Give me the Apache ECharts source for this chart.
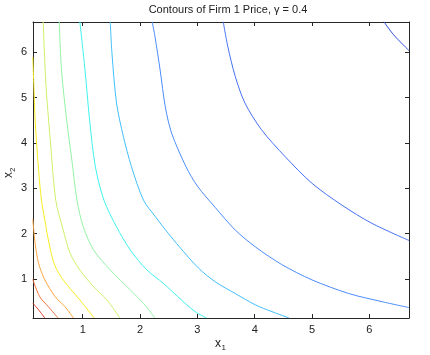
<!DOCTYPE html>
<html><head><meta charset="utf-8">
<script src="https://cdn.jsdelivr.net/npm/echarts@6/dist/echarts.min.js"></script>
<style>html,body{margin:0;padding:0;background:#fff}#c{width:430px;height:355px}</style>
</head><body><div id="c"></div>
<script>
// axis extents and ticks
const xRange = [0.133, 6.69];
const yRange = [0.14, 6.67];
const xTicks = [1, 2, 3, 4, 5, 6];
const yTicks = [1, 2, 3, 4, 5, 6];

// contour lines (x1, x2), lowest level (red) first
const level1 = [[0.13,0.47],[0.23,0.32],[0.34,0.14]];
const level2 = [[0.13,0.99],[0.25,0.61],[0.4,0.39],[0.57,0.14]];
const level3 = [[0.13,2.32],[0.17,1.79],[0.23,1.35],[0.34,0.98],[0.52,0.61],[0.69,0.39],[0.84,0.14]];
const level4 = [[0.13,5.9],[0.15,5.2],[0.17,4.51],[0.23,3.41],[0.28,2.74],[0.34,2.3],[0.39,1.93],[0.49,1.38],[0.6,1.09],[0.78,0.79],[0.95,0.54],[1.2,0.14]];
const level5 = [[0.31,6.68],[0.36,5.25],[0.43,4.14],[0.53,2.74],[0.66,2.08],[0.78,1.57],[0.95,1.2],[1.19,0.83],[1.42,0.54],[1.65,0.14]];
const level6 = [[0.59,6.68],[0.63,5.61],[0.72,4.51],[0.81,3.63],[0.9,2.74],[1.01,2.15],[1.19,1.64],[1.48,1.2],[1.83,0.76],[2.06,0.46],[2.26,0.14]];
const level7 = [[0.95,6.68],[1.04,5.61],[1.12,4.51],[1.22,3.48],[1.37,2.74],[1.59,2.15],[1.83,1.64],[2.12,1.2],[2.41,0.9],[2.65,0.62],[2.96,0.28],[3.16,0.14]];
const level8 = [[1.48,6.68],[1.51,5.98],[1.59,4.88],[1.71,4.14],[1.85,3.48],[2.06,2.74],[2.27,2.37],[2.49,2.01],[2.68,1.72],[3.02,1.24],[3.31,0.94],[3.66,0.68],[4.01,0.43],[4.3,0.28],[4.6,0.14]];
const level9 = [[2.21,6.68],[2.26,6.35],[2.35,5.61],[2.44,4.8],[2.55,4.22],[2.8,3.48],[3.0,3.05],[3.31,2.58],[3.66,2.08],[4.01,1.71],[4.47,1.32],[5.0,0.98],[5.64,0.68],[6.22,0.5],[6.69,0.37]];
const level10 = [[3.45,6.68],[3.53,6.13],[3.66,5.47],[3.83,4.88],[4.12,4.29],[4.53,3.7],[5.0,3.11],[5.52,2.63],[6.04,2.23],[6.69,1.85]];
const level11 = [[6.25,6.68],[6.42,6.39],[6.69,6.04]];

const levels = [level1, level2, level3, level4, level5, level6, level7, level8, level9, level10, level11];
const colors = ['#e0402c','#f4703a','#ffa43c','#f6ec22','#cdf06a','#94f2a6','#3ef2ee','#42befc','#4c8cfc','#4470f4','#3250dc'];

const chart = echarts.init(document.getElementById('c'));
const axisLineStyle = {color: '#262626', width: 1};
const tickStyle = {inside: true, length: 4, lineStyle: {color: '#262626', width: 1}};
const font = 'Liberation Sans, Arial, Helvetica, sans-serif';

const series = levels.map((d, i) => ({
  type: 'line', data: d, showSymbol: false, smooth: 0.3, xAxisIndex: 0, yAxisIndex: 0,
  lineStyle: {color: colors[i], width: 1}, silent: true, animation: false, clip: true
}));

chart.setOption({
  animation: false,
  backgroundColor: '#fff',
  grid: {left: 33, right: 21, top: 22, bottom: 37},
  xAxis: [
    {type: 'value', min: xRange[0], max: xRange[1], position: 'bottom',
     axisLine: {lineStyle: axisLineStyle}, splitLine: {show: false},
     axisTick: Object.assign({customValues: xTicks}, tickStyle),
     axisLabel: {customValues: xTicks, color: '#222', fontSize: 11, fontFamily: font, margin: 6}},
    {type: 'value', min: xRange[0], max: xRange[1], position: 'top',
     axisLine: {lineStyle: axisLineStyle}, splitLine: {show: false},
     axisTick: Object.assign({customValues: xTicks}, tickStyle),
     axisLabel: {show: false}}
  ],
  yAxis: [
    {type: 'value', min: yRange[0], max: yRange[1], position: 'left',
     axisLine: {show: true, lineStyle: axisLineStyle}, splitLine: {show: false},
     axisTick: Object.assign({show: true, customValues: yTicks}, tickStyle),
     axisLabel: {customValues: yTicks, color: '#222', fontSize: 11, fontFamily: font, margin: 6}},
    {type: 'value', min: yRange[0], max: yRange[1], position: 'right',
     axisLine: {show: true, lineStyle: axisLineStyle}, splitLine: {show: false},
     axisTick: Object.assign({show: true, customValues: yTicks}, tickStyle),
     axisLabel: {show: false}}
  ],
  graphic: [
    {type: 'text', x: 228, y: 4, silent: true,
     style: {text: 'Contours of Firm 1 Price, \u03b3 = 0.4', fontSize: 11, fontFamily: font, fill: '#222', textAlign: 'center', textVerticalAlign: 'top'}},
    {type: 'text', x: 215, y: 338, silent: true,
     style: {text: 'x', fontSize: 12, fontFamily: font, fill: '#222', textVerticalAlign: 'top'}},
    {type: 'text', x: 221.5, y: 344, silent: true,
     style: {text: '1', fontSize: 8, fontFamily: font, fill: '#222', textVerticalAlign: 'top'}},
    {type: 'text', x: 3, y: 178, rotation: Math.PI / 2, silent: true,
     style: {text: 'x', fontSize: 12, fontFamily: font, fill: '#222', textVerticalAlign: 'top'}},
    {type: 'text', x: 9, y: 172, rotation: Math.PI / 2, silent: true,
     style: {text: '2', fontSize: 8, fontFamily: font, fill: '#222', textVerticalAlign: 'top'}}
  ],
  series: series
});
</script></body></html>
